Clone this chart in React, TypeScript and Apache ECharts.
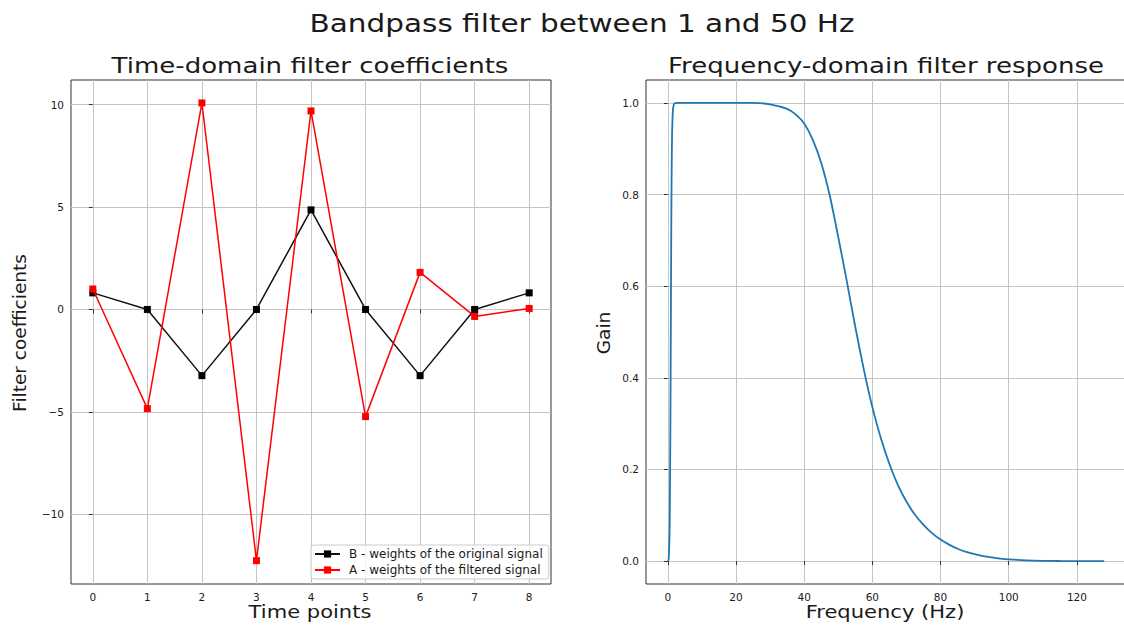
import React, { useEffect, useRef } from "react";
import * as echarts from "echarts";

// ---- data ----
const timePoints = [0, 1, 2, 3, 4, 5, 6, 7, 8];
const weightsB = [0.81, 0, -3.23, 0, 4.86, 0, -3.23, 0, 0.81];
const weightsA = [1.0, -4.84, 10.08, -12.26, 9.69, -5.23, 1.81, -0.34, 0.05];

const freqHz = [
  0, 0.25, 0.5, 0.6, 0.75, 0.9, 1, 1.1, 1.25, 1.5,
  1.75, 2, 2.5, 3, 5, 10, 15, 20, 25, 30,
  35, 37.5, 40, 42.5, 45, 47.5, 50, 52.5, 55, 57.5,
  60, 62.5, 65, 67.5, 70, 72.5, 75, 77.5, 80, 82.5,
  85, 87.5, 90, 92.5, 95, 97.5, 100, 105, 110, 115,
  120, 128,
];
const gain = [
  0, 0.004, 0.059, 0.123, 0.293, 0.543, 0.707, 0.83, 0.931, 0.984,
  0.996, 0.999, 1.0, 1.0, 1.0, 1.0, 1.0, 1.0, 1.0, 0.997,
  0.987, 0.975, 0.955, 0.92, 0.869, 0.798, 0.707, 0.611, 0.511, 0.418,
  0.336, 0.268, 0.212, 0.166, 0.13, 0.101, 0.079, 0.061, 0.047, 0.036,
  0.027, 0.02, 0.015, 0.011, 0.008, 0.0055, 0.0038, 0.0016, 0.0006, 0.0002,
  0, 0,
];

const timeTicks = [0, 1, 2, 3, 4, 5, 6, 7, 8];
const coefTicks = [-10, -5, 0, 5, 10];
const freqTicks = [0, 20, 40, 60, 80, 100, 120];
const gainTicks = [0, 0.2, 0.4, 0.6, 0.8, 1.0];

const nameB = "B - weights of the original signal";
const nameA = "A - weights of the filtered signal";

const suptitle = "Bandpass filter between 1 and 50 Hz";
const leftTitle = "Time-domain filter coefficients";
const rightTitle = "Frequency-domain filter response";
const leftXName = "Time points";
const leftYName = "Filter coefficients";
const rightXName = "Frequency (Hz)";
const rightYName = "Gain";

const FONT = "'DejaVu Sans', sans-serif";
const TXT = "#1a1a1a";

function valueAxis(gridIndex: number, min: number, max: number, ticks: number[], fmt: (v: number) => string) {
  return {
    type: "value",
    gridIndex,
    min,
    max,
    axisLine: { show: false },
    axisTick: {
      show: true,
      inside: false,
      length: 4,
      customValues: ticks,
      lineStyle: { color: "#333", width: 1 },
    },
    axisLabel: {
      customValues: ticks,
      formatter: fmt,
      color: TXT,
      fontSize: 10.5,
      fontFamily: FONT,
      margin: 7,
    },
    splitLine: { show: true, lineStyle: { color: "#c4c4c4", width: 1 } },
  };
}

function label(text: string, x: number, y: number, size: number, sx: number, rot = 0) {
  return {
    type: "text",
    x,
    y,
    rotation: rot,
    scaleX: sx,
    silent: true,
    style: {
      text,
      fontSize: size,
      fontFamily: FONT,
      fill: TXT,
      align: "center",
      verticalAlign: "middle",
    },
  };
}

export default function App() {
  const ref = useRef<HTMLDivElement>(null);

  useEffect(() => {
    if (!ref.current) return;
    const chart = echarts.init(ref.current, undefined, { renderer: "svg" });
    const minus = (v: number) => String(v).replace("-", "\u2212");
    const option = {
      animation: false,
      backgroundColor: "#ffffff",
      grid: [
        { left: 71, top: 80, width: 480, height: 504, show: true, borderColor: "#333", borderWidth: 1, backgroundColor: "transparent" },
        { left: 646, top: 80, width: 480, height: 504, show: true, borderColor: "#333", borderWidth: 1, backgroundColor: "transparent" },
      ],
      xAxis: [
        valueAxis(0, -0.4, 8.4, timeTicks, (v: number) => String(v)),
        valueAxis(1, -6.4, 134.4, freqTicks, (v: number) => String(v)),
      ],
      yAxis: [
        valueAxis(0, -13.4, 11.2, coefTicks, minus),
        valueAxis(1, -0.05, 1.05, gainTicks, (v: number) => v.toFixed(1)),
      ],
      legend: {
        left: 311,
        top: 545,
        orient: "vertical",
        data: [nameB, nameA],
        itemWidth: 25,
        itemHeight: 9,
        itemGap: 4,
        padding: [3, 6, 3, 3],
        backgroundColor: "rgba(255,255,255,0.8)",
        borderColor: "#cccccc",
        borderWidth: 1,
        borderRadius: 3,
        selectedMode: false,
        textStyle: { fontSize: 12, fontFamily: FONT, color: TXT, lineHeight: 11, padding: [0, 0, 0, 4] },
      },
      series: [
        {
          type: "line",
          name: nameB,
          xAxisIndex: 0,
          yAxisIndex: 0,
          data: timePoints.map((t, i) => [t, weightsB[i]]),
          symbol: "rect",
          symbolSize: 7,
          showAllSymbol: true,
          lineStyle: { color: "#111111", width: 1.5 },
          itemStyle: { color: "#000000" },
          z: 3,
        },
        {
          type: "line",
          name: nameA,
          xAxisIndex: 0,
          yAxisIndex: 0,
          data: timePoints.map((t, i) => [t, weightsA[i]]),
          symbol: "rect",
          symbolSize: 7,
          showAllSymbol: true,
          lineStyle: { color: "#ff0000", width: 1.5 },
          itemStyle: { color: "#ff0000" },
          z: 4,
        },
        {
          type: "line",
          name: "gain",
          xAxisIndex: 1,
          yAxisIndex: 1,
          data: freqHz.map((f, i) => [f, gain[i]]),
          showSymbol: false,
          symbol: "none",
          smooth: 0.25,
          lineStyle: { color: "#1f77b4", width: 1.8 },
          z: 3,
        },
      ],
      graphic: [
        label(suptitle, 582, 23, 25, 1.18),
        label(leftTitle, 310, 66, 21, 1.24),
        label(rightTitle, 886, 66, 21, 1.24),
        label(leftXName, 310, 612, 18, 1.17),
        label(rightXName, 885, 612, 18, 1.17),
        label(leftYName, 19, 333, 18.5, 1, Math.PI / 2),
        label(rightYName, 603, 333, 18.5, 1, Math.PI / 2),
      ],
    };
    chart.setOption(option as any);
    return () => chart.dispose();
  }, []);

  return (
    <div style={{ position: "fixed", left: 0, top: 0, width: 1124, height: 626, overflow: "hidden", background: "#fff" }}>
      <div ref={ref} style={{ width: 1130, height: 626 }} />
    </div>
  );
}
